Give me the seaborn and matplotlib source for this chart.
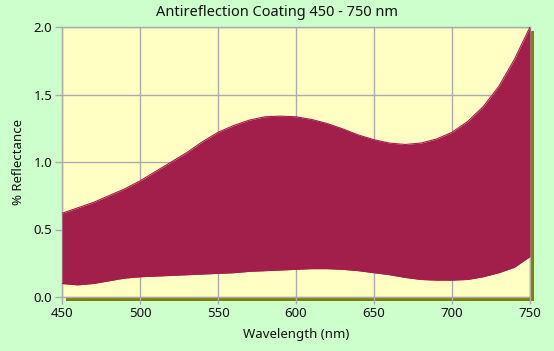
import numpy as np
import pandas as pd
import matplotlib
matplotlib.use('Agg')
import matplotlib.pyplot as plt
from matplotlib.patches import Rectangle
import seaborn as sns

wavelength = [450, 460, 470, 480, 490, 500, 510, 520, 530, 540, 550, 560, 570, 580, 590,
              600, 610, 620, 630, 640, 650, 660, 670, 680, 690, 700, 710, 720, 730, 740, 750]
upper_refl = [0.62, 0.66, 0.70, 0.75, 0.80, 0.86, 0.93, 1.00, 1.07, 1.15, 1.22, 1.27, 1.31, 1.335, 1.34,
              1.335, 1.315, 1.285, 1.245, 1.20, 1.165, 1.14, 1.13, 1.14, 1.17, 1.22, 1.30, 1.41, 1.56, 1.76, 2.00]
lower_refl = [0.10, 0.09, 0.10, 0.12, 0.14, 0.15, 0.155, 0.16, 0.165, 0.17, 0.175, 0.18, 0.19, 0.195, 0.20,
              0.205, 0.21, 0.21, 0.205, 0.195, 0.18, 0.165, 0.145, 0.13, 0.125, 0.125, 0.13, 0.15, 0.18, 0.22, 0.30]

x_ticks = [450, 500, 550, 600, 650, 700, 750]
y_ticks = [0.0, 0.5, 1.0, 1.5, 2.0]

band_color = '#a31f4b'
grid_color = '#ababab'

df = pd.DataFrame({'wl': wavelength, 'upper': upper_refl, 'lower': lower_refl})

sns.set_style('white')
plt.rcParams['font.family'] = ['Noto Sans', 'DejaVu Sans']

W, H = 554, 351
fig = plt.figure(figsize=(W / 100, H / 100), dpi=100, facecolor='#ccffcc')
l, r, t, b = 62, 530, 27, 297
ax = fig.add_axes([l / W, 1 - b / H, (r - l) / W, (b - t) / H])
ax.set_facecolor('#ffffc4')
ax.set_zorder(2)

# olive drop shadow behind the plot area
shadow = Rectangle(((l + 4) / W, 1 - (b + 4) / H), (r - l) / W, (b - t) / H,
                   transform=fig.transFigure, facecolor='#808000', edgecolor='none', zorder=-1)
fig.patches.append(shadow)

ax.fill_between(df.wl, df.lower, df.upper, color=band_color, lw=0, zorder=3)
sns.lineplot(data=df, x='wl', y='upper', ax=ax, color=band_color, lw=0.8, zorder=3)
sns.lineplot(data=df, x='wl', y='lower', ax=ax, color=band_color, lw=0.8, zorder=3)

ax.set_xlim(450, 750)
ax.set_ylim(0, 2.0)
ax.set_xticks(x_ticks)
ax.set_yticks(y_ticks)
ax.set_yticklabels([f'{v:.1f}' for v in y_ticks])
ax.grid(True, color=grid_color, lw=1, zorder=1)
ax.set_axisbelow(True)
for s in ax.spines.values():
    s.set_color(grid_color)
    s.set_linewidth(1)
ax.tick_params(axis='both', length=5, width=1, color=grid_color, labelsize=9.5,
               labelcolor='#111111', pad=2, bottom=True, left=True)

fig.text(0.5, 1 - 13 / H, 'Antireflection Coating 450 - 750 nm', fontsize=10.5,
         color='#111111', ha='center', va='center')
ax.set_xlabel('Wavelength (nm)', fontsize=9.5, color='#111111', labelpad=6)
ax.set_ylabel('% Reflectance', fontsize=9.5, color='#111111', labelpad=6)

fig.savefig('out.png', dpi=100, facecolor=fig.get_facecolor())
